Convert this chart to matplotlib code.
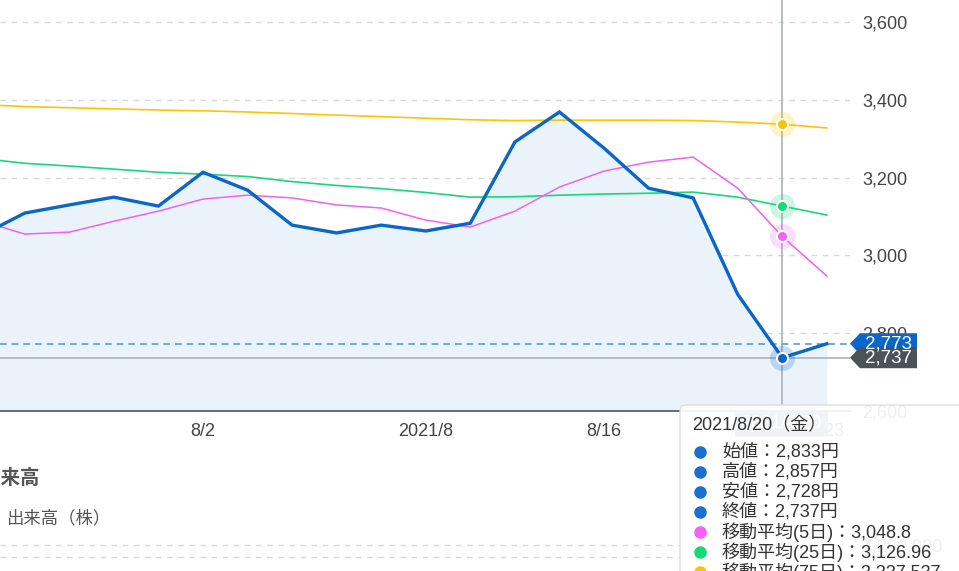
import numpy as np
from matplotlib import pyplot as plt
from matplotlib.patches import Polygon, FancyBboxPatch, Rectangle

plt.rcParams['font.family'] = ['Liberation Sans', 'Noto Sans CJK JP', 'DejaVu Sans']

# trading days 7/26 .. 8/23
dates = ['7/26', '7/27', '7/28', '7/29', '7/30', '8/2', '8/3', '8/4', '8/5', '8/6',
         '8/10', '8/11', '8/12', '8/13', '8/16', '8/17', '8/18', '8/19', '8/20', '8/23']
close = [3050, 3109, 3130, 3150, 3127, 3214, 3168, 3078, 3058, 3078,
         3063, 3083, 3292, 3369, 3276, 3173, 3148, 2900, 2737, 2773]
ma5 = [3090, 3055, 3060, 3088, 3114, 3145, 3155, 3148, 3130, 3122,
       3091, 3073, 3114, 3176, 3217, 3240, 3253, 3173, 3048.8, 2947]
ma25 = [3250, 3237, 3230, 3222, 3214, 3209, 3203, 3190, 3180, 3172,
        3162, 3150, 3151, 3155, 3158, 3160, 3163, 3150, 3126.96, 3104]
ma75 = [3388, 3383, 3380, 3377, 3374, 3372, 3369, 3365, 3361, 3357,
        3353, 3349, 3347, 3348, 3348, 3348, 3347, 3343, 3337.537, 3328]
yticks = [2600, 2800, 3000, 3200, 3400, 3600]
xtick_pos = [5, 10, 14, 19]
xtick_labels = ['8/2', '2021/8', '8/16', '8/23']
sel = 18  # 8/20
last_price = 2773

tip_lines = ['始値：2,833円', '高値：2,857円', '安値：2,728円', '終値：2,737円',
             '移動平均(5日)：3,048.8', '移動平均(25日)：3,126.96', '移動平均(75日)：3,337.537']

BLUE = '#0a66c8'
PINK = '#f461f4'
GREEN = '#16d977'
YELLOW = '#ffc400'

W, H = 959, 571
fig = plt.figure(figsize=(W / 100, H / 100), dpi=100)

def px_axes(x0, y0, x1, y1):
    return fig.add_axes([x0 / W, 1 - y1 / H, (x1 - x0) / W, (y1 - y0) / H])

ax = px_axes(0, 0, 850, 411)
x = np.arange(len(dates))
ax.set_xlim(0.445, 19.52)
ax.set_ylim(2600, 3657)

ax.fill_between(x, close, 2600, color='#eaf2fa', zorder=1, lw=0)
for v in yticks[1:]:
    ax.axhline(v, color='#d8d8d8', lw=1, ls=(0, (4, 4)), zorder=0)
ax.plot(x, ma75, color=YELLOW, lw=1.2, zorder=3)
ax.plot(x, ma25, color=GREEN, lw=1.2, zorder=3)
ax.plot(x, ma5, color=PINK, lw=1.1, zorder=3)
ax.plot(x, close, color=BLUE, lw=2.4, zorder=4, solid_joinstyle='miter')

# crosshair + current price line
ax.axvline(sel, color='#a8b3bd', lw=1.2, zorder=2)
ax.axhline(close[sel], color='#a8b3bd', lw=1.2, zorder=2)
ax.axhline(last_price, color='#5b9be0', lw=1.2, ls=(0, (4, 3)), zorder=2)

for vals, c in [(ma75, YELLOW), (ma25, GREEN), (ma5, PINK), (close, BLUE)]:
    ax.plot(sel, vals[sel], 'o', ms=18, color=c, alpha=0.22, mew=0, zorder=5)
    ax.plot(sel, vals[sel], 'o', ms=8, color=c, mec='white', mew=1.5, zorder=6)

ax.set_yticks(yticks)
ax.set_yticklabels([f'{v:,}' for v in yticks])
ax.yaxis.tick_right()
ax.set_xticks(xtick_pos)
ax.set_xticklabels(xtick_labels)
ax.tick_params(length=0, labelsize=13, colors='#444444')
ax.tick_params(axis='y', pad=9)
ax.tick_params(axis='x', pad=9)
for s in ['top', 'left', 'right']:
    ax.spines[s].set_visible(False)
ax.spines['bottom'].set_color('#55616d')
ax.spines['bottom'].set_linewidth(1.3)
ax.patch.set_alpha(0)

# volume panel (mostly cut off)
vax = px_axes(0, 540, 850, 700)
vax.set_xlim(0.445, 19.52)
vol_ticks = [4200000, 3400000, 2200000]
vax.set_ylim(-6000000, 4500000)
vax.set_yticks([4200000])
vax.set_yticklabels(['4,200,000'])
vax.yaxis.tick_right()
vax.tick_params(length=0, labelsize=13, colors='#444444', pad=9)
vax.set_xticks([])
for v in vol_ticks:
    vax.axhline(v, color='#d8d8d8', lw=1, ls=(0, (4, 4)))
for s in vax.spines.values():
    s.set_visible(False)
vax.patch.set_alpha(0)

# overlay in pixel coords
ov = fig.add_axes([0, 0, 1, 1], zorder=10)
ov.set_xlim(0, W)
ov.set_ylim(H, 0)
ov.axis('off')
ov.patch.set_alpha(0)

ov.text(-19, 478, '出来高', fontsize=14, fontweight='bold', color='#555555', va='center')
ov.text(6, 518, '出来高（株）', fontsize=12.5, color='#555555', va='center')

def ypx(v):
    return H - ax.transData.transform((0, v))[1]

def badge(v, color, label):
    yc = ypx(v)
    h = 10.5
    ov.add_patch(Polygon([[850, yc], [860, yc - h], [917, yc - h], [917, yc + h], [860, yc + h]],
                         closed=True, color=color, lw=0))
    ov.text(888, yc + 0.5, label, color='white', fontsize=13.5, ha='center', va='center')

badge(last_price, '#0a66c8', f'{last_price:,}')
badge(close[sel], '#4b5259', f'{close[sel]:,}')

# x crosshair date badge (under tooltip)
ov.add_patch(Rectangle((735, 410), 93, 27, color='#6b747c', lw=0))
ov.text(781, 424, '2021/8/20', color='white', fontsize=13, ha='center', va='center')

# tooltip
ov.add_patch(FancyBboxPatch((680, 405), 300, 200, boxstyle='round,pad=0,rounding_size=6',
                            facecolor='white', edgecolor='#dcdcdc', lw=1, alpha=0.92))
ov.text(692, 426, '2021/8/20（金）', fontsize=13, color='#333333', va='center')
dot_colors = ['#1a6fd0'] * 4 + [PINK, GREEN, YELLOW]
for i, (t, c) in enumerate(zip(tip_lines, dot_colors)):
    yy = 452 + i * 20
    ov.plot(700, yy, 'o', ms=9, color=c, mew=0)
    ov.text(722, yy, t, fontsize=13, color='#333333', va='center')

fig.savefig('out.png', dpi=100)
